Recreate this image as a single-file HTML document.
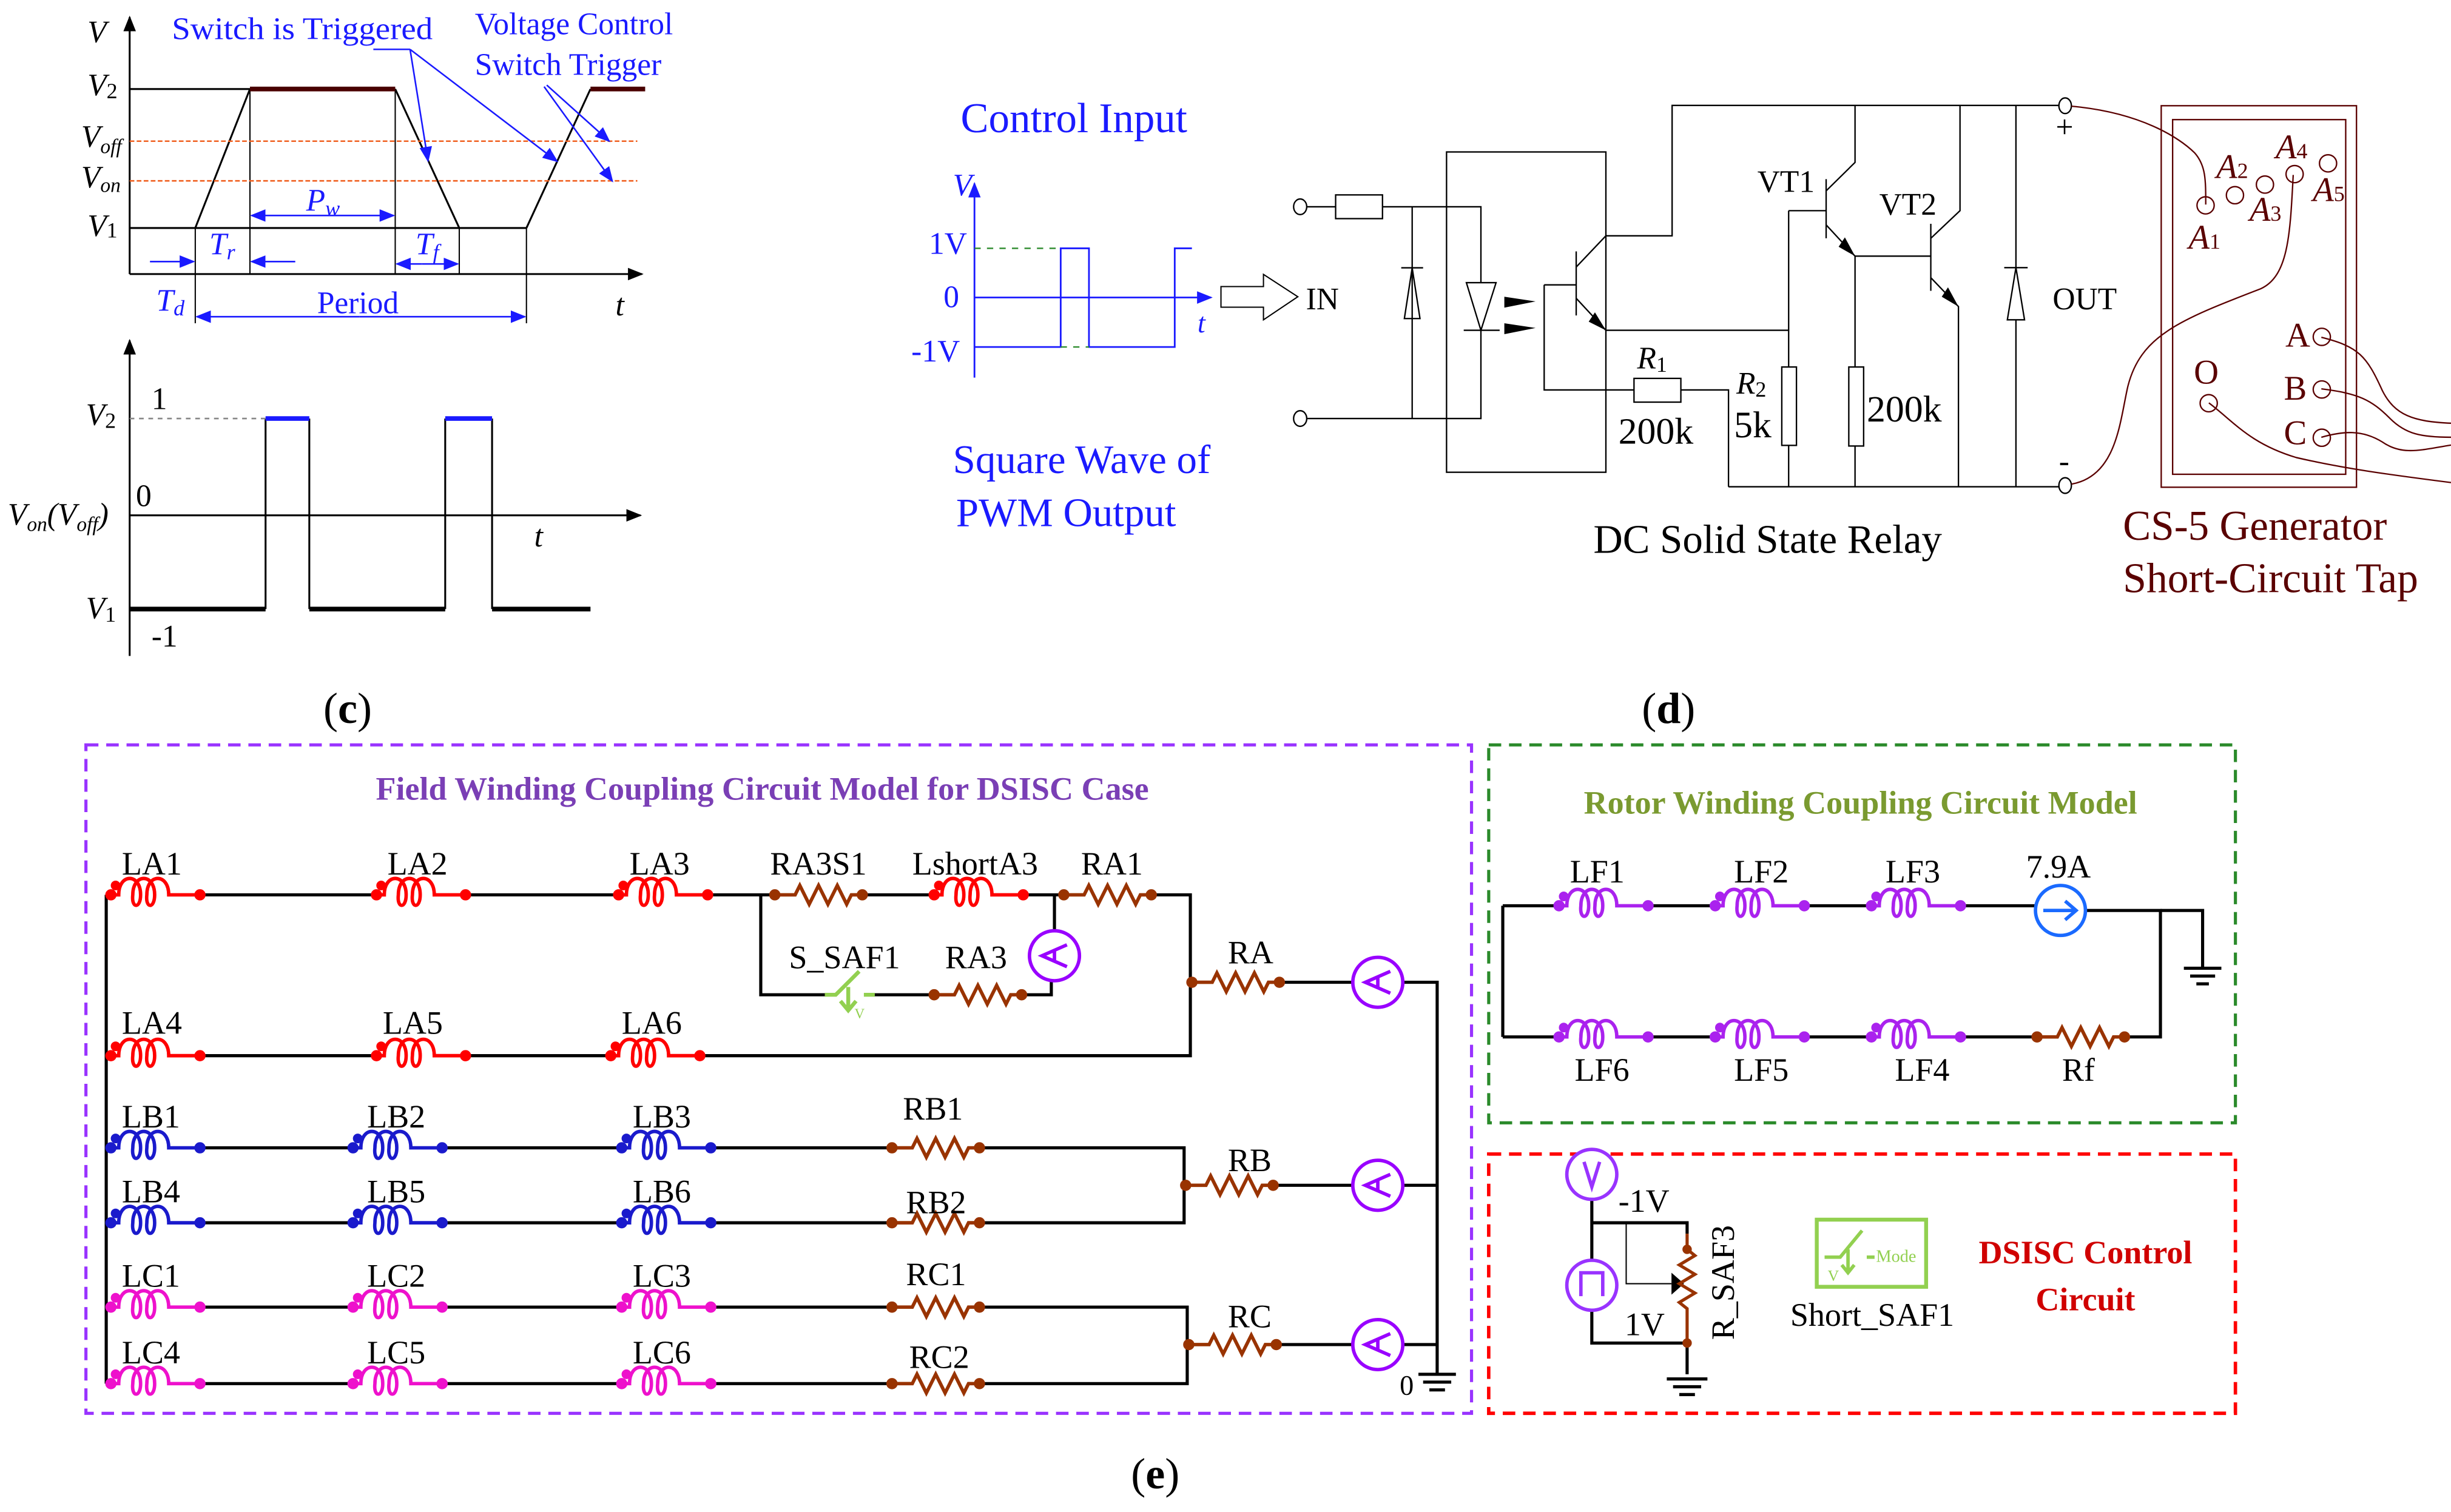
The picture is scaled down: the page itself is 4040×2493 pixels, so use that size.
<!DOCTYPE html>
<html><head><meta charset="utf-8"><style>
html,body{margin:0;padding:0;background:#fff}
svg{display:block}
text{font-family:"Liberation Serif",serif}
</style></head><body>
<svg xmlns="http://www.w3.org/2000/svg" width="4040" height="2493" viewBox="0 0 1569 968.2">
<defs>
<marker id="ar" markerWidth="10" markerHeight="8" refX="9" refY="4" orient="auto" markerUnits="userSpaceOnUse"><path d="M0,0 L10,4 L0,8 z" fill="#000"/></marker>
<marker id="ab" markerWidth="10" markerHeight="8" refX="9" refY="4" orient="auto" markerUnits="userSpaceOnUse"><path d="M0,0 L10,4 L0,8 z" fill="#1a1aff"/></marker>
<g id="ind" fill="none" stroke="currentColor" stroke-width="2.2">
<path d="M0,0 H6 c0,-14 14,-14 14,0 c0,9 -6,9 -5,0 c0,-14 14,-14 14,0 c0,9 -6,9 -5,0 c0,-14 14,-14 14,0 v0 H58"/>
<circle cx="1" cy="0" r="2.5" fill="currentColor"/><circle cx="58" cy="0" r="2.5" fill="currentColor"/><circle cx="4" cy="-6" r="2" fill="currentColor"/>
</g>
<g id="res" fill="none" stroke="#993300" stroke-width="2.2">
<path d="M0,0 H14 l3,-6 l6,12 l6,-12 l6,12 l6,-12 l6,12 l3,-6 H58"/>
<circle cx="1" cy="0" r="2.5" fill="#993300"/><circle cx="57" cy="0" r="2.5" fill="#993300"/>
</g>
<g id="amm" fill="none" stroke="#9900ff" stroke-width="2.2">
<circle cx="0" cy="0" r="16" fill="#fff"/><path d="M8,-7 L-8,0 L8,7 M0,-4 V4"/>
</g>
</defs>

<!-- ===== Panel (c) top ===== -->
<g stroke="#000" fill="none" stroke-width="1.2">
<line x1="83" y1="175.5" x2="83" y2="11" marker-end="url(#ar)"/>
<line x1="83" y1="175.5" x2="411" y2="175.5" marker-end="url(#ar)"/>
<path d="M83,57 H160 M83,146 H337"/>
<path d="M125,146 L160,57 M253,57 L294,146 M337,146 L378,57"/>
<path d="M125,146 V207 M160,57 V175 M253,57 V175 M294,146 V175 M337,146 V207" stroke-width="0.8"/>
</g>
<line x1="83" y1="90.4" x2="408" y2="90.4" stroke="#f06020" stroke-dasharray="3,1.5"/>
<line x1="83" y1="115.8" x2="408" y2="115.8" stroke="#f06020" stroke-dasharray="3,1.5"/>
<path d="M160,57 H253 M378,57 H413" stroke="#4a0000" stroke-width="3"/>
<g stroke="#1a1aff" stroke-width="1" fill="none">
<line x1="96" y1="167.5" x2="124" y2="167.5" marker-end="url(#ab)"/>
<line x1="189" y1="167.5" x2="161" y2="167.5" marker-end="url(#ab)"/>
<line x1="200" y1="138" x2="161" y2="138" marker-end="url(#ab)"/>
<line x1="200" y1="138" x2="252" y2="138" marker-end="url(#ab)"/>
<line x1="270" y1="169" x2="254" y2="169" marker-end="url(#ab)"/>
<line x1="270" y1="169" x2="293" y2="169" marker-end="url(#ab)"/>
<line x1="230" y1="202.8" x2="126" y2="202.8" marker-end="url(#ab)"/>
<line x1="230" y1="202.8" x2="336" y2="202.8" marker-end="url(#ab)"/>
<path d="M239,31.6 H262.5"/>
<line x1="262.5" y1="31.6" x2="274" y2="103" marker-end="url(#ab)"/>
<line x1="262.5" y1="31.6" x2="356.6" y2="103.3" marker-end="url(#ab)"/>
<line x1="348.3" y1="55.5" x2="392" y2="116" marker-end="url(#ab)"/>
<line x1="350" y1="54.5" x2="390" y2="90.4" marker-end="url(#ab)"/>
</g>
<g font-size="20" fill="#000" font-style="italic">
<text x="56" y="27">V</text><text x="56" y="61">V<tspan font-size="14" dy="2" font-style="normal">2</tspan></text>
<text x="52" y="94">V<tspan font-size="13" dy="4">off</tspan></text>
<text x="52" y="120">V<tspan font-size="13" dy="3">on</tspan></text>
<text x="56" y="151">V<tspan font-size="14" dy="1" font-style="normal">1</tspan></text>
<text x="394" y="202">t</text>
</g>
<g fill="#1a1aff" font-size="20">
<text x="110" y="25" textLength="167" lengthAdjust="spacingAndGlyphs">Switch is Triggered</text>
<text x="304" y="22">Voltage Control</text><text x="304" y="48">Switch Trigger</text>
<text x="134" y="163" font-style="italic">T<tspan font-size="14" dy="3">r</tspan></text>
<text x="196" y="135" font-style="italic">P<tspan font-size="14" dy="3">w</tspan></text>
<text x="266" y="163" font-style="italic">T<tspan font-size="14" dy="3">f</tspan></text>
<text x="100" y="199" font-style="italic">T<tspan font-size="14" dy="3">d</tspan></text>
<text x="203" y="200.5">Period</text>
</g>

<!-- ===== Panel (c) bottom ===== -->
<g stroke="#000" fill="none" stroke-width="1.2">
<line x1="83" y1="420" x2="83" y2="218" marker-end="url(#ar)"/>
<line x1="83" y1="330" x2="410" y2="330" marker-end="url(#ar)"/>
<path d="M170,390 V268 M198,268 V390 M285,390 V268 M315,268 V390"/>
</g>
<line x1="83" y1="268" x2="170" y2="268" stroke="#888" stroke-dasharray="3,3"/>
<path d="M83,390 H170 M198,390 H285 M315,390 H378" stroke="#000" stroke-width="3"/>
<path d="M170,268 H198 M285,268 H315" stroke="#1a1aff" stroke-width="3"/>
<g font-size="20" fill="#000">
<text x="97" y="262">1</text><text x="87" y="324">0</text><text x="97" y="414">-1</text>
<text x="55" y="272" font-style="italic">V<tspan font-size="14" dy="2" font-style="normal">2</tspan></text>
<text x="55" y="396" font-style="italic">V<tspan font-size="14" dy="2" font-style="normal">1</tspan></text>
<text x="5" y="336" font-style="italic">V<tspan font-size="13" dy="4">on</tspan><tspan dy="-4">(V</tspan><tspan font-size="13" dy="4">off</tspan><tspan dy="-4">)</tspan></text>
<text x="342" y="350" font-style="italic">t</text>
<text x="207" y="463" font-size="28">(<tspan font-weight="bold">c</tspan>)</text>
<text x="1051" y="463" font-size="28">(<tspan font-weight="bold">d</tspan>)</text>
<text x="724" y="953" font-size="28">(<tspan font-weight="bold">e</tspan>)</text>
</g>

<!-- ===== Panel (d) control input ===== -->
<g fill="#1a1aff">
<text x="615" y="84.6" font-size="27" textLength="145" lengthAdjust="spacingAndGlyphs">Control Input</text>
<text x="610" y="303" font-size="26">Square Wave of</text><text x="612" y="337" font-size="26">PWM Output</text>
<text x="610" y="125" font-size="20" font-style="italic">V</text>
<text x="594.6" y="162.6" font-size="20">1V</text><text x="604" y="196.7" font-size="20">0</text><text x="583.4" y="231.5" font-size="20">-1V</text>
<text x="766.6" y="212.8" font-size="18" font-style="italic">t</text>
</g>
<g stroke="#1a1aff" fill="none" stroke-width="1.1">
<line x1="623.8" y1="241.8" x2="623.8" y2="117.5" marker-end="url(#ab)"/>
<line x1="623.8" y1="190.5" x2="775.3" y2="190.5" marker-end="url(#ab)"/>
<path d="M623.8,222.2 H679 V159 H697.1 V222.2 H752 V159 H763"/>
</g>
<path d="M623.8,159 H679 M679,222.2 H697.1" stroke="#2a8a2a" stroke-width="0.9" stroke-dasharray="4,4" fill="none"/>
<path d="M781.6,183.5 H808.8 V175.7 L830.8,190 L808.8,204.8 V196.7 H781.6 z" fill="#fff" stroke="#000" stroke-width="0.8"/>

<!-- ===== Relay ===== -->
<g font-size="20" fill="#000">
<text x="836" y="198">IN</text><text x="1314" y="198">OUT</text>
<text x="1125" y="123">VT1</text><text x="1203" y="137.4">VT2</text>
<text x="1048" y="236" font-style="italic">R<tspan font-size="14" dy="2" font-style="normal">1</tspan></text>
<text x="1036" y="284" font-size="24">200k</text>
<text x="1111.5" y="252" font-style="italic">R<tspan font-size="14" dy="2" font-style="normal">2</tspan></text>
<text x="1110" y="280" font-size="24">5k</text>
<text x="1195" y="270" font-size="24">200k</text>
<text x="1316" y="88">+</text><text x="1318" y="302">-</text>
<text x="1020" y="354" font-size="26">DC Solid State Relay</text>
</g>
<g stroke="#000" fill="none" stroke-width="0.9">
<ellipse cx="832.3" cy="132.4" rx="4.2" ry="5"/><ellipse cx="832.3" cy="268" rx="4.2" ry="5"/>
<path d="M836.5,132.4 H855 M885,132.4 H948 V181 M836.5,268 H948 V211.5 M904,132.4 V268"/>
<rect x="855" y="124.8" width="30" height="15.2"/>
<path d="M899,204 L904,171.5 L909,204 z M897,171.5 H911"/>
<path d="M938.7,181 H957.7 L948,211.5 z M937,211.5 H960"/>
<rect x="926" y="97.3" width="102" height="205.1"/>
<path d="M1009,161 V202 M1009,171 L1028,151 M1009,191 L1028,211.5 M988.5,182.4 H1009 M988.5,182.4 V249.7 H1046 M1076,249.7 H1106.5 V311.7"/>
<rect x="1046" y="242.3" width="30" height="15.2"/>
<path d="M1028,151 H1070.4 V67.5 H1318 M1028,211.5 H1145 M1145,134.9 V235 M1145,285.2 V311.7 M1145,134.9 H1169 M1106.5,311.7 H1318"/>
<rect x="1140.6" y="235" width="9.4" height="50.2"/>
<path d="M1169,114.7 V152.6 M1169,122.2 L1187.5,104 V67.5 M1169,144 L1187.5,164 V235 M1187.5,285.6 V311.7 M1187.5,164 H1236"/>
<rect x="1183.5" y="235" width="9.5" height="50.6"/>
<path d="M1236,143.3 V186.2 M1236,152.6 L1254.7,134.9 V67.5 M1236,177.8 L1253.7,196.3 V311.7"/>
<path d="M1290.5,67.5 V171.4 M1290.5,204.8 V311.7 M1285,204.8 L1290.5,171.4 L1296,204.8 z M1283,171.4 H1298"/>
<ellipse cx="1322" cy="67.7" rx="4" ry="5"/><ellipse cx="1322" cy="310.9" rx="4" ry="5"/>
</g>
<path d="M963,190 L983,193 L963,197 z M963,207 L983,210 L963,214 z" fill="#000"/>
<path d="M1028,211.5 L1021,200 L1017,206 z M1187.5,164 L1181,152 L1177,158 z M1253.7,196.3 L1247,184 L1243,190 z" fill="#000"/>

<!-- CS-5 -->
<g fill="none" stroke="#5a0000" stroke-width="0.9">
<rect x="1383.5" y="67.7" width="125" height="244.3"/>
<rect x="1390.8" y="76.6" width="110.8" height="227.1"/>
<circle cx="1411.9" cy="131.5" r="5.5"/><circle cx="1430.7" cy="125" r="5.5"/><circle cx="1449.9" cy="118.2" r="5.5"/><circle cx="1468.9" cy="111.5" r="5.5"/><circle cx="1490.3" cy="104.6" r="5.5"/>
<circle cx="1486.3" cy="215.7" r="5.5"/><circle cx="1486.3" cy="249.4" r="5.5"/><circle cx="1486.3" cy="280.3" r="5.5"/><circle cx="1413.9" cy="258.2" r="5.5"/>
<path d="M1326,68 C1370,72 1395,88 1405,98 C1412,106 1412,115 1412,131"/>
<path d="M1326,310 C1355,305 1357,270 1362,248 C1370,215 1395,205 1447,185 C1465,177 1466,150 1468,112"/>
<path d="M1486,216 C1510,222 1515,228 1525,250 C1533,266 1545,270 1569,271"/>
<path d="M1486,249 C1510,252 1518,256 1530,268 C1540,278 1550,280 1569,280"/>
<path d="M1486,280 C1500,276 1512,275 1525,283 C1538,292 1550,288 1569,285"/>
<path d="M1414,258 C1430,270 1440,284 1470,293 C1500,300 1530,304 1569,309"/>
</g>
<g fill="#5a0000" font-size="22">
<text x="1418.7" y="114" font-style="italic">A<tspan font-size="14" dy="0" font-style="normal">2</tspan></text>
<text x="1456.7" y="101.4" font-style="italic">A<tspan font-size="14" font-style="normal">4</tspan></text>
<text x="1440" y="141.4" font-style="italic">A<tspan font-size="14" font-style="normal">3</tspan></text>
<text x="1480.5" y="128.8" font-style="italic">A<tspan font-size="14" font-style="normal">5</tspan></text>
<text x="1401" y="159.3" font-style="italic">A<tspan font-size="14" font-style="normal">1</tspan></text>
<text x="1463" y="222">A</text><text x="1462" y="256">B</text><text x="1462" y="284.5">C</text><text x="1404.4" y="245.6">O</text>
<text x="1359" y="345.6" font-size="27" textLength="169" lengthAdjust="spacingAndGlyphs">CS-5 Generator</text>
<text x="1359" y="379.3" font-size="27" textLength="189" lengthAdjust="spacingAndGlyphs">Short-Circuit Tap</text>
</g>

<!-- ===== Panel (e) boxes ===== -->
<rect x="55" y="477" width="887" height="428" fill="none" stroke="#9933ff" stroke-width="2" stroke-dasharray="8,5"/>
<rect x="953" y="477" width="478" height="242" fill="none" stroke="#2a8a2a" stroke-width="2" stroke-dasharray="8,5"/>
<rect x="953" y="739" width="478" height="166" fill="none" stroke="#ff0000" stroke-width="2.2" stroke-dasharray="8,5"/>
<text x="488" y="512" font-size="21" font-weight="bold" fill="#7a3fb5" text-anchor="middle">Field Winding Coupling Circuit Model for DSISC Case</text>
<text x="1191" y="521" font-size="21" font-weight="bold" fill="#7a9a30" text-anchor="middle">Rotor Winding Coupling Circuit Model</text>
<text x="1335" y="809" font-size="21" font-weight="bold" fill="#d00000" text-anchor="middle">DSISC Control</text>
<text x="1335" y="839" font-size="21" font-weight="bold" fill="#d00000" text-anchor="middle">Circuit</text>

<g stroke="#000" fill="none" stroke-width="2">
<path d="M68,573 V886"/>
<path d="M128,573 H240 M298,573 H395 M453,573 H495 M553,573 H597 M655,573 H680 M738,573 H762 V676 H448"/>
<path d="M487,573 V637 H530 M558,637 H597 M655,637 H673 V628"/>
<path d="M675,596 V573"/>
<path d="M128,676 H240 M298,676 H390"/>
<path d="M820,629 H866 M898,629 H920 V880"/>
<path d="M128,735 H225 M283,735 H397 M455,735 H570 M628,735 H758 V783 H628 M570,783 H455 M397,783 H283 M225,783 H128"/>
<path d="M816,759 H866 M898,759 H920"/>
<path d="M128,837 H225 M283,837 H397 M455,837 H570 M628,837 H760 V886 H628 M570,886 H455 M397,886 H283 M225,886 H128"/>
<path d="M818,861 H866 M898,861 H920"/>
<path d="M908,880 H932 M911,885 H929 M915,890 H925"/>
</g>
<g color="#ff0000">
<use href="#ind" x="70" y="573"/><use href="#ind" x="240" y="573"/><use href="#ind" x="395" y="573"/>
<use href="#ind" x="597" y="573"/>
<use href="#ind" x="70" y="676"/><use href="#ind" x="240" y="676"/><use href="#ind" x="390" y="676"/>
</g>
<g color="#1a1acc">
<use href="#ind" x="70" y="735"/><use href="#ind" x="225" y="735"/><use href="#ind" x="397" y="735"/>
<use href="#ind" x="70" y="783"/><use href="#ind" x="225" y="783"/><use href="#ind" x="397" y="783"/>
</g>
<g color="#ee11cc">
<use href="#ind" x="70" y="837"/><use href="#ind" x="225" y="837"/><use href="#ind" x="397" y="837"/>
<use href="#ind" x="70" y="886"/><use href="#ind" x="225" y="886"/><use href="#ind" x="397" y="886"/>
</g>
<use href="#res" x="495" y="573"/><use href="#res" x="680" y="573"/><use href="#res" x="597" y="637"/>
<use href="#res" x="762" y="629"/><use href="#res" x="570" y="735"/><use href="#res" x="570" y="783"/>
<use href="#res" x="758" y="759"/><use href="#res" x="570" y="837"/><use href="#res" x="570" y="886"/><use href="#res" x="760" y="861"/>
<use href="#amm" x="675" y="612"/><use href="#amm" x="882" y="629"/><use href="#amm" x="882" y="759"/><use href="#amm" x="882" y="861"/>
<g stroke="#92d050" stroke-width="2.5" fill="none"><path d="M528,637 H535 L550,622 M543,632 V646 M538,641 L543,647 L548,641 M553,637 H560"/></g>
<text x="547" y="652" font-size="9" fill="#92d050">V</text>
<g font-size="21" fill="#000">
<text x="78" y="560">LA1</text><text x="248" y="560">LA2</text><text x="403" y="560">LA3</text><text x="493" y="560">RA3S1</text><text x="584" y="560">LshortA3</text><text x="692" y="560">RA1</text>
<text x="505" y="620">S_SAF1</text><text x="605" y="620">RA3</text><text x="786" y="617">RA</text>
<text x="78" y="662">LA4</text><text x="245" y="662">LA5</text><text x="398" y="662">LA6</text>
<text x="78" y="722">LB1</text><text x="235" y="722">LB2</text><text x="405" y="722">LB3</text><text x="578" y="717">RB1</text>
<text x="78" y="770">LB4</text><text x="235" y="770">LB5</text><text x="405" y="770">LB6</text><text x="580" y="777">RB2</text><text x="786" y="750">RB</text>
<text x="78" y="824">LC1</text><text x="235" y="824">LC2</text><text x="405" y="824">LC3</text><text x="580" y="823">RC1</text>
<text x="78" y="873">LC4</text><text x="235" y="873">LC5</text><text x="405" y="873">LC6</text><text x="582" y="876">RC2</text><text x="786" y="850">RC</text>
<text x="896" y="893" font-size="18">0</text>
</g>

<!-- rotor -->
<g stroke="#000" fill="none" stroke-width="2">
<path d="M962,580 V664 M962,580 H997 M1055,580 H1097 M1155,580 H1197 M1255,580 H1303 M1335,583 H1383 V664 H1360 M1305,664 H1255 M1197,664 H1155 M1097,664 H1055 M997,664 H962"/>
<path d="M1383,583 H1410 V620 M1398,620 H1422 M1402,625 H1418 M1406,630 H1414"/>
</g>
<g color="#aa22ee">
<use href="#ind" x="997" y="580"/><use href="#ind" x="1097" y="580"/><use href="#ind" x="1197" y="580"/>
<use href="#ind" x="997" y="664"/><use href="#ind" x="1097" y="664"/><use href="#ind" x="1197" y="664"/>
</g>
<use href="#res" x="1303" y="664"/>
<g stroke="#1a6aff" stroke-width="2.2" fill="none"><circle cx="1319" cy="583" r="16" fill="#fff"/><path d="M1308,583 H1328 M1322,577 L1329,583 L1322,589"/></g>
<g font-size="21" fill="#000">
<text x="1005" y="565">LF1</text><text x="1110" y="565">LF2</text><text x="1207" y="565">LF3</text><text x="1297" y="562">7.9A</text>
<text x="1008" y="692">LF6</text><text x="1110" y="692">LF5</text><text x="1213" y="692">LF4</text><text x="1320" y="692">Rf</text>
</g>

<!-- DSISC -->
<g stroke="#000" fill="none" stroke-width="2">
<path d="M1019,768 V807 M1019,839 V860 H1080 V880 M1019,783 H1080 V790 M1067,883 H1093 M1071,888 H1089 M1075,893 H1085"/>
<path d="M1041,783 V822 H1070" stroke-width="0.8"/>
</g>
<path d="M1070,815 L1078,822 L1070,829 z" fill="#000"/>
<path d="M1080,790 V800 l5,4 l-10,6 l10,6 l-10,6 l10,6 l-10,6 l5,4 V860" stroke="#993300" stroke-width="2" fill="none"/>
<circle cx="1080" cy="800" r="3" fill="#993300"/><circle cx="1080" cy="860" r="3" fill="#993300"/>
<g stroke="#9933ff" stroke-width="2.2" fill="none">
<circle cx="1019" cy="752" r="16" fill="#fff"/><path d="M1014,744 L1019,760 L1024,744"/>
<circle cx="1019" cy="823" r="16" fill="#fff"/><path d="M1012,830 V815 H1026 V830"/>
</g>
<rect x="1163" y="781" width="70" height="43" fill="#fff" stroke="#92d050" stroke-width="2.5"/>
<path d="M1168,805 H1178 L1192,788 M1183,800 V815 M1179,810 L1183,815 L1187,810 M1195,805 H1200" stroke="#92d050" stroke-width="2.2" fill="none"/>
<text x="1201" y="808" font-size="11" fill="#92d050">Mode</text><text x="1170" y="820" font-size="10" fill="#92d050">V</text>
<g font-size="21" fill="#000">
<text x="1036" y="776">-1V</text><text x="1040" y="855">1V</text>
<text x="1146" y="849">Short_SAF1</text>
<text transform="translate(1110,858) rotate(-90)" font-size="21">R_SAF3</text>
</g>
</svg>
</body></html>
